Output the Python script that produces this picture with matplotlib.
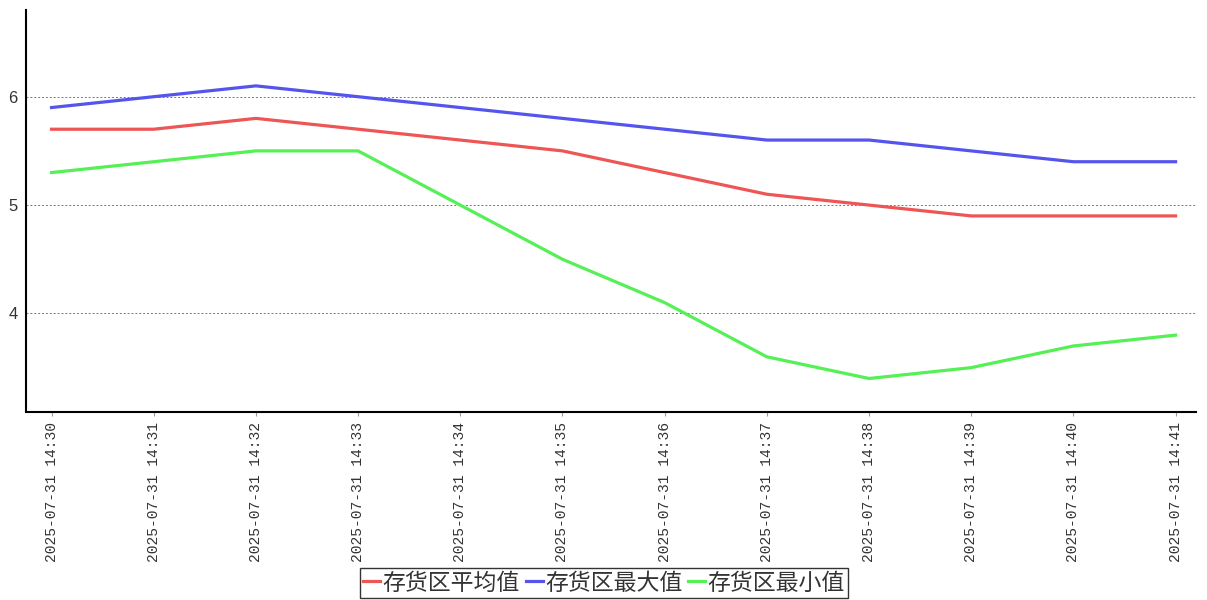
import matplotlib
matplotlib.use("Agg")
import matplotlib.pyplot as plt
from matplotlib.font_manager import FontProperties

times = ["2025-07-31 14:30", "2025-07-31 14:31", "2025-07-31 14:32", "2025-07-31 14:33",
         "2025-07-31 14:34", "2025-07-31 14:35", "2025-07-31 14:36", "2025-07-31 14:37",
         "2025-07-31 14:38", "2025-07-31 14:39", "2025-07-31 14:40", "2025-07-31 14:41"]
avg_vals = [5.7, 5.7, 5.8, 5.7, 5.6, 5.5, 5.3, 5.1, 5.0, 4.9, 4.9, 4.9]
max_vals = [5.9, 6.0, 6.1, 6.0, 5.9, 5.8, 5.7, 5.6, 5.6, 5.5, 5.4, 5.4]
min_vals = [5.3, 5.4, 5.5, 5.5, 5.0, 4.5, 4.1, 3.6, 3.4, 3.5, 3.7, 3.8]
series_names = ["存货区平均值", "存货区最大值", "存货区最小值"]
y_ticks = [4, 5, 6]

plt.rcParams['font.family'] = ['Noto Sans CJK SC', 'DejaVu Sans']

fig = plt.figure(figsize=(12.07, 6.0), dpi=100)
ax = fig.add_axes([26/1207, 189/600, 1170/1207, 401/600])

for s in ['top', 'right']:
    ax.spines[s].set_visible(False)
ax.spines['left'].set_linewidth(1.5)
ax.spines['bottom'].set_linewidth(1.5)
ax.spines['bottom'].set_position(('outward', 1))

x = list(range(len(times)))
colors = ["#EE5555", "#5555EE", "#55F055"]
for vals, c, name in zip([avg_vals, max_vals, min_vals], colors, series_names):
    ax.plot(x, vals, color=c, lw=2.3, label=name, solid_joinstyle='round')

ax.set_xlim(-0.25, 11.2)
ax.set_ylim(3.1, 6.8)
ax.tick_params(axis='y', length=0, pad=6)
ax.tick_params(axis='x', length=3, width=0.8, color="#999999", pad=4)

mono = FontProperties(family='Liberation Mono', size=10.5)
ysans = FontProperties(family='Liberation Sans', size=12)
ax.set_yticks(y_ticks, labels=[str(v) for v in y_ticks], fontproperties=ysans, color="#333333")
ax.set_xticks(x, labels=times, fontproperties=mono, rotation=90, color="#333333")

ax.grid(axis='y', linestyle=(0, (2, 2)), color="#777777", lw=0.7)

leg = fig.legend(loc='center', bbox_to_anchor=(604/1207, 1 - 583/600), ncol=3,
                 fontsize=16.5, frameon=True, fancybox=False, handlelength=0.75,
                 handletextpad=0.1, columnspacing=0.25, borderpad=0.15,
                 borderaxespad=0)
leg.get_frame().set_edgecolor('black')
leg.get_frame().set_linewidth(1.0)
for t in leg.get_texts():
    t.set_color('#333333')

fig.savefig("out.png", dpi=100)
